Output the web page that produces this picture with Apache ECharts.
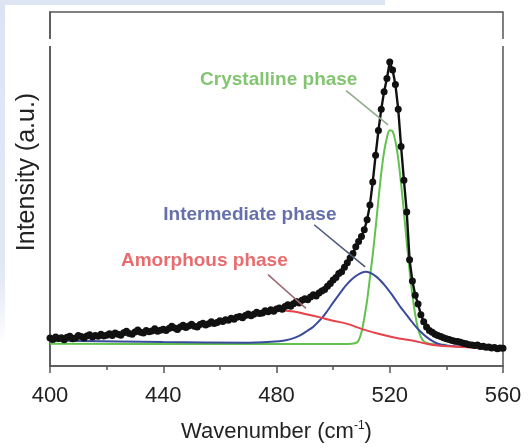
<!DOCTYPE html>
<html>
<head>
<meta charset="utf-8">
<script src="https://cdn.jsdelivr.net/npm/echarts@6/dist/echarts.min.js"></script>
<style>
html,body{margin:0;padding:0;background:#ffffff;}
#chart{width:528px;height:448px;}
</style>
</head>
<body>
<div id="chart"></div>
<script>
// ---- Data ----
const xTickLabels = ['400', '440', '480', '520', '560'];
const spectrumStart = 400;   // first measured wavenumber (cm-1)
const spectrumStep = 1;      // sampling step (cm-1)
// measured Raman intensity (a.u.), 400 ... 560 cm-1
const measuredIntensity = [
  7.9, 7.5, 8.2, 7.8, 8.0, 7.4, 8.1, 8.4, 7.7, 7.9, 8.6, 8.3, 7.9, 8.5, 8.8, 8.2, 8.6, 8.4, 9.0, 8.5, 8.7,
  9.1, 8.6, 9.3, 9.0, 8.7, 9.4, 9.8, 9.2, 9.0, 9.6, 10.2, 9.5, 9.3, 10.0, 9.7, 9.9, 10.5, 9.8, 10.1, 10.4,
  10.0, 10.6, 11.2, 10.7, 10.3, 11.0, 11.5, 10.9, 11.3, 11.8, 11.2, 11.0, 11.7, 12.1, 11.6, 11.9, 12.5, 12.0, 12.3, 12.8,
  12.6, 13.1, 12.9, 13.5, 13.2, 13.8, 14.0, 13.6, 14.3, 14.7, 14.2, 14.6, 15.2, 14.8, 15.0, 15.6, 15.3, 15.9, 15.5, 16.1,
  16.4, 16.0, 16.8, 17.3, 16.9, 17.6, 18.2, 17.8, 18.6, 19.0, 18.7, 19.5, 20.1, 19.8, 20.6, 21.2, 21.6, 22.5, 23.3, 24.3,
  25.0, 26.1, 26.6, 27.9, 29.2, 30.5, 31.8, 33.7, 35.2, 36.6, 38.5, 41.3, 45.5, 52.0, 59.5, 66.5, 72.5, 77.5, 81.2, 85.9,
  83.6, 79.5, 72.5, 62.0, 52.5, 43.5, 30.0, 24.0, 20.0, 17.5, 14.5, 12.5, 11.0, 10.0, 9.5, 9.0, 8.6, 8.3, 8.0, 7.7,
  7.5, 7.2, 7.0, 6.9, 6.7, 6.4, 6.3, 6.0, 5.9, 5.8, 5.9, 5.5, 5.6, 5.3, 5.4, 5.1, 5.2, 4.9, 5.1, 5.0
];

// fitted components: wavenumber / intensity pairs
const crystallineX = [400, 450, 483, 500, 505, 508, 509, 510, 511, 512, 513, 514, 515, 516, 517, 518, 519, 520, 521, 522, 523, 524, 525, 526, 527, 528, 529, 530, 531, 532, 534, 540];
const crystallineY = [6.3, 6.2, 6.2, 6.2, 6.2, 6.5, 7.2, 9.5, 13.5, 18.5, 25.0, 31.5, 39.0, 47.0, 54.5, 60.5, 64.5, 66.6, 66.3, 63.5, 58.5, 51.5, 43.5, 35.0, 27.0, 20.0, 14.5, 10.5, 8.2, 7.0, 6.3, 6.0];

const intermediateX = [400, 440, 470, 481, 485, 488, 491, 493, 496, 498, 500, 502, 505, 508, 511.5, 515, 518, 521, 524, 526, 528, 531, 534, 537, 540, 545, 560];
const intermediateY = [7.2, 6.8, 6.6, 7.0, 7.6, 8.5, 10.0, 11.1, 13.5, 15.6, 17.9, 20.1, 23.2, 25.4, 26.6, 25.4, 23.0, 19.9, 16.4, 14.4, 12.3, 9.6, 7.6, 6.3, 5.8, 5.5, 5.2];

const amorphousX = [400, 420, 440, 460, 470, 476, 481, 486, 490, 495, 500, 505, 510, 516, 522, 528, 533, 537, 545, 560];
const amorphousY = [7.6, 8.5, 9.9, 12.4, 13.9, 15.0, 15.7, 15.4, 14.7, 13.8, 12.8, 11.9, 10.5, 9.1, 8.0, 7.2, 6.3, 5.8, 5.4, 5.0];

// annotations (data coordinates)
const annotationTexts = ['Crystalline phase', 'Intermediate phase', 'Amorphous phase'];
const annotationAnchors = [[480.8, 80.9], [470.6, 42.7], [454.5, 29.6]];
const leaderStarts = [[504.6, 77.8], [493.3, 39.9], [477.0, 25.8]];
const leaderEnds = [[519.4, 68.1], [511.3, 28.0], [490.4, 16.3]];

// ---- Build ----
const spectrum = measuredIntensity.map((v, i) => [spectrumStart + i * spectrumStep, v]);
const zip = (xs, ys) => xs.map((x, i) => [x, ys[i]]);

const FONT = '"Liberation Sans", Arial, Helvetica, sans-serif';
const textColors = ['#64b54c', '#3e4c96', '#e2474a'];
const lineColors = ['#62c24d', '#3a4a9c', '#e8414a'];
const leaderColors = ['#8fae88', '#4c5878', '#a06a72'];
const compX = [crystallineX, intermediateX, amorphousX];
const compY = [crystallineY, intermediateY, amorphousY];

const compSeries = [0, 1, 2].map(k => ({
  type: 'line',
  name: annotationTexts[k],
  data: zip(compX[k], compY[k]),
  smooth: 0.35,
  symbol: 'none',
  z: 2,
  lineStyle: { color: lineColors[k], width: 2 },
  markLine: {
    silent: true,
    symbol: 'none',
    label: { show: false },
    lineStyle: { color: leaderColors[k], width: 1.6, type: 'solid' },
    data: [[{ coord: leaderStarts[k] }, { coord: leaderEnds[k] }]]
  }
}));

const chart = echarts.init(document.getElementById('chart'), null, { renderer: 'canvas' });
chart.setOption({
  animation: false,
  backgroundColor: '#ffffff',
  grid: { left: 50, right: 25, top: 12, bottom: 75, show: true, borderColor: '#555', borderWidth: 1.5, containLabel: false },
  xAxis: {
    type: 'value', min: 400, max: 560, interval: 40,
    axisLine: { onZero: false, lineStyle: { color: '#555', width: 1.5 } },
    axisTick: { show: true, inside: false, length: 7, lineStyle: { color: '#555', width: 1.5 } },
    minorTick: { show: true, splitNumber: 2, length: 4, lineStyle: { color: '#555', width: 1.5 } },
    splitLine: { show: false },
    axisLabel: {
      fontSize: 22, color: '#222', margin: 19, fontFamily: FONT,
      formatter: v => xTickLabels[Math.round((v - 400) / 40)] || ''
    },
    name: 'Wavenumber (cm{sup|-1})',
    nameLocation: 'middle', nameGap: 54,
    nameTextStyle: {
      fontSize: 22, color: '#222', fontFamily: FONT,
      rich: { sup: { fontSize: 12, color: '#222', fontFamily: FONT, padding: [0, 0, 12, 0] } }
    }
  },
  yAxis: {
    type: 'value', min: 0, max: 100,
    axisLine: { show: true, lineStyle: { color: '#555', width: 1.5 } },
    axisTick: { show: false }, axisLabel: { show: false }, splitLine: { show: false }
  },
  graphic: [
    {
      type: 'rect', shape: { x: 0, y: 0, width: 5, height: 345 }, silent: true, z: -10,
      style: { fill: new echarts.graphic.LinearGradient(0, 0, 0, 1, [
        { offset: 0, color: '#dce4f4' }, { offset: 0.8, color: '#e2e8f5' }, { offset: 1, color: 'rgba(226,232,245,0)' }]) }
    },
    { type: 'rect', shape: { x: 0, y: 0, width: 385, height: 5 }, style: { fill: '#dde4f3' }, silent: true, z: -10 },
    { type: 'rect', shape: { x: 46, y: 39, width: 8, height: 7 }, style: { fill: '#ffffff' }, silent: true, z: 100 },
    { type: 'rect', shape: { x: 499, y: 39, width: 8, height: 7 }, style: { fill: '#ffffff' }, silent: true, z: 100 },
    {
      type: 'text', x: 27, y: 172, rotation: Math.PI / 2,
      style: { text: 'Intensity (a.u.)', font: '25px ' + FONT, fill: '#222', align: 'center', verticalAlign: 'middle' }
    }
  ],
  series: compSeries.concat([
    {
      type: 'line',
      name: 'Measured',
      data: spectrum,
      symbol: 'circle', symbolSize: 7, showSymbol: true, showAllSymbol: true,
      z: 3,
      itemStyle: { color: '#111' },
      lineStyle: { color: '#111', width: 2.4 }
    },
    {
      type: 'scatter',
      name: 'labels',
      symbolSize: 0,
      z: 4,
      silent: true,
      data: annotationAnchors.map((p, k) => ({
        value: p,
        label: {
          show: true, position: 'inside', formatter: annotationTexts[k],
          fontSize: 19, fontWeight: 'bold', fontFamily: FONT, color: textColors[k]
        }
      }))
    }
  ])
});
</script>
</body>
</html>
